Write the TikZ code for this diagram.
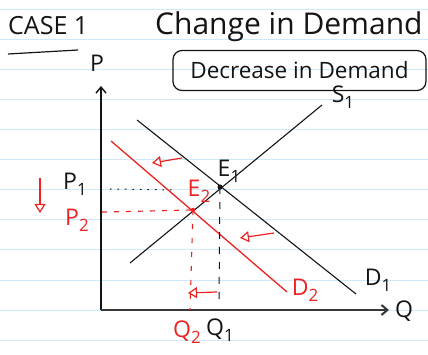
\documentclass[tikz,border=0pt]{standalone}
\usepackage{fontspec}
\setmainfont{Open Sans}
\usetikzlibrary{arrows.meta}
\definecolor{rulecol}{RGB}{205,233,250}
\definecolor{ink}{RGB}{20,20,20}
\definecolor{pen}{RGB}{235,35,35}
\definecolor{axiscol}{RGB}{55,55,55}
\newcommand{\lowsub}[1]{\raisebox{-6pt}{\fontsize{17}{17}\selectfont #1}}
\begin{document}
\begin{tikzpicture}[x=1pt,y=-1pt,
  lbl/.style={font=\fontsize{23}{25}\selectfont, inner sep=0pt, text=ink},
  rlbl/.style={lbl, text=pen},
  curve/.style={line width=1.1pt, draw=ink},
  redcurve/.style={line width=1.3pt, draw=pen},
  redarrow/.style={line width=1.2pt, draw=pen, -{Triangle[open, length=9pt, width=11pt]}},
  ]
\useasboundingbox (0,0) rectangle (428,355);
\fill[white] (0,0) rectangle (428,355);
\foreach \y in {10,40,...,340} \draw[rulecol, line width=1pt] (0,\y) -- (428,\y);

% titles
\node[anchor=base west, inner sep=0pt, font=\fontsize{25}{27}\selectfont, text=ink] (case) at (8,35) {CASE 1};
\coordinate (ul1) at (8,54);
\coordinate (ul2) at (78,50);
\draw[curve, line width=1.2pt] (ul1) -- (ul2);
\node[anchor=base west, inner sep=0pt, font=\fontsize{30}{32}\selectfont, text=ink] (title) at (155,35) {Change in Demand};
\node[draw=ink, line width=1.2pt, rounded corners=9pt, minimum width=253pt, minimum height=40pt,
      font=\fontsize{22.5}{24}\selectfont, text=ink, inner sep=0pt] (box) at (299.5,70.5) {Decrease in Demand};

% axes
\coordinate (O) at (101,310);
\coordinate (Ytop) at (101,86);
\coordinate (Xend) at (389,310);
\draw[ink, line width=1.4pt, -{Straight Barb[length=6pt,width=10pt]}] (O) -- (Ytop);
\draw[axiscol, line width=2pt, -{Straight Barb[length=6pt,width=10pt]}] (O) -- (Xend);
\node[lbl] (P) at (97,63) {P};
\node[lbl] (Q) at (404,311) {Q};

% curves
\coordinate (E1) at (220,187);
\coordinate (E2) at (193,210);
\coordinate (s0) at (130,263);
\coordinate (s1) at (322,105);
\coordinate (d10) at (137,120);
\coordinate (d11) at (356,294);
\coordinate (d20) at (111,141);
\coordinate (d21) at (287,292);
\draw[curve] (s0) -- (s1);
\draw[curve] (d10) -- (d11);
\draw[redcurve] (d20) -- (d21);

% guide lines
\coordinate (p1a) at (110,189);
\coordinate (p1b) at (176,190);
\draw[ink, line width=1pt, dash pattern=on 1.5pt off 6pt] (p1a) -- (p1b);
\coordinate (p2a) at (102,212);
\draw[pen, line width=1.2pt, dash pattern=on 5pt off 7pt] (p2a) -- (E2);
\coordinate (q1b) at (219,302);
\draw[ink, line width=1pt, dash pattern=on 7pt off 8pt] (E1) -- (q1b);
\coordinate (q2b) at (190,310);
\draw[pen, line width=1.1pt, dash pattern=on 5pt off 9pt] (E2) -- (q2b);

\fill[ink] (E1) circle (2.5);
\fill[pen] (E2) circle (2.2);

% shift arrows
\coordinate (a1s) at (182,158); \coordinate (a1e) at (152,163);
\coordinate (a2s) at (274,233); \coordinate (a2e) at (240,238);
\coordinate (a3s) at (217,292); \coordinate (a3e) at (188,293);
\coordinate (a4s) at (40,178);  \coordinate (a4e) at (40,213);
\draw[redarrow] (a1s) -- (a1e);
\draw[redarrow] (a2s) -- (a2e);
\draw[redarrow] (a3s) -- (a3e);
\draw[redarrow] (a4s) -- (a4e);

% labels
\node[lbl] (S1) at (343,97) {S\lowsub{1}};
\node[lbl] (E1l) at (229,171) {E\lowsub{1}};
\node[rlbl] (E2l) at (199,191) {E\lowsub{2}};
\node[lbl] (D1) at (378,280) {D\lowsub{1}};
\node[rlbl] (D2) at (305,290) {D\lowsub{2}};
\node[lbl] (P1) at (75,184) {P\lowsub{1}};
\node[rlbl] (P2) at (77,220) {P\lowsub{2}};
\node[lbl] (Q1) at (220,330) {Q\lowsub{1}};
\node[rlbl] (Q2) at (187,332) {Q\lowsub{2}};
\end{tikzpicture}
\end{document}
